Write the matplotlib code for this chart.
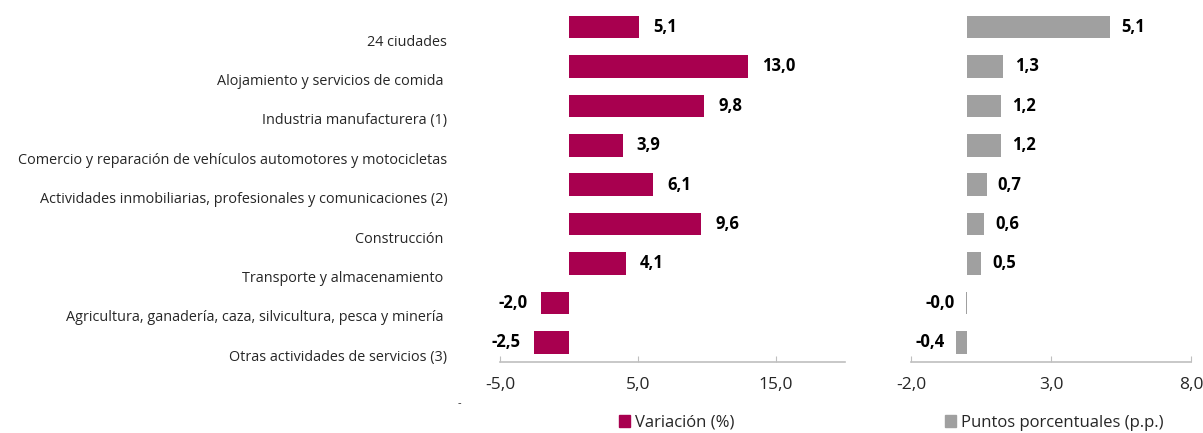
import matplotlib.pyplot as plt
from matplotlib.patches import Patch
from matplotlib.transforms import ScaledTranslation

plt.rcParams['font.family'] = ['Open Sans', 'DejaVu Sans']

# Datos
categorias = ['24 ciudades',
              'Alojamiento y servicios de comida ',
              'Industria manufacturera (1)',
              'Comercio y reparación de vehículos automotores y motocicletas',
              'Actividades inmobiliarias, profesionales y comunicaciones (2)',
              'Construcción ',
              'Transporte y almacenamiento ',
              'Agricultura, ganadería, caza, silvicultura, pesca y minería ',
              'Otras actividades de servicios (3)']
variacion = [5.1, 13.0, 9.8, 3.9, 6.1, 9.6, 4.1, -2.0, -2.5]
puntos = [5.1, 1.3, 1.2, 1.2, 0.7, 0.6, 0.5, -0.04, -0.4]

c_var = '#A8004F'
c_pp = '#A0A0A0'
c_axis = '#BFBFBF'

fig = plt.figure(figsize=(12.03, 4.33), dpi=100)
ax1 = fig.add_axes([0.4156, 0.164, 0.2868, 0.819])
ax2 = fig.add_axes([0.7573, 0.164, 0.2327, 0.819])

y = list(range(len(categorias)))


def fmt(v):
    return f'{v:.1f}'.replace('.', ',')


def dibujar(ax, vals, color, xlim, ticks, off):
    ax.barh(y, vals, height=0.57, color=color)
    ax.set_xlim(*xlim)
    ax.set_ylim(len(categorias) - 0.5, -0.5)
    for i, v in zip(y, vals):
        if v >= 0:
            ax.text(v + off, i, fmt(v), va='center', ha='left',
                    fontsize=12, fontweight='bold', color='black')
        else:
            ax.text(v - off, i, fmt(v), va='center', ha='right',
                    fontsize=12, fontweight='bold', color='black')
    for s in ['top', 'right', 'left']:
        ax.spines[s].set_visible(False)
    ax.spines['bottom'].set_color(c_axis)
    ax.spines['bottom'].set_linewidth(1.2)
    ax.set_xticks(ticks)
    ax.set_xticklabels([fmt(t) for t in ticks])
    ax.tick_params(axis='x', direction='in', length=4, color=c_axis,
                   labelsize=12.5, pad=11, labelcolor='#262626')
    ax.tick_params(axis='y', length=0)


dibujar(ax1, variacion, c_var, (-5, 20), [-5, 5, 15], 1.0)
dibujar(ax2, puntos, c_pp, (-2, 8), [-2, 3, 8], 0.4)

ax1.set_yticks(y)
ax1.set_yticklabels(categorias, fontsize=10.4, color='#262626')
ax1.tick_params(axis='y', pad=38)
# las etiquetas quedan un poco más abajo que las barras
desplaza = ScaledTranslation(0, -0.13, fig.dpi_scale_trans)
for lbl in ax1.get_yticklabels():
    lbl.set_transform(lbl.get_transform() + desplaza)
ax2.set_yticks([])

fig.text(0.3805, 0.062, '-', fontsize=8, color='#262626')

ax1.legend(handles=[Patch(color=c_var, label='Variación (%)')],
           loc='center', bbox_to_anchor=(0.512, -0.172), frameon=False,
           handlelength=0.7, handleheight=0.7, handletextpad=0.3,
           fontsize=12, labelcolor='#262626')
ax2.legend(handles=[Patch(color=c_pp, label='Puntos porcentuales (p.p.)')],
           loc='center', bbox_to_anchor=(0.512, -0.172), frameon=False,
           handlelength=0.7, handleheight=0.7, handletextpad=0.3,
           fontsize=12, labelcolor='#262626')

plt.savefig('out.png', dpi=100)
